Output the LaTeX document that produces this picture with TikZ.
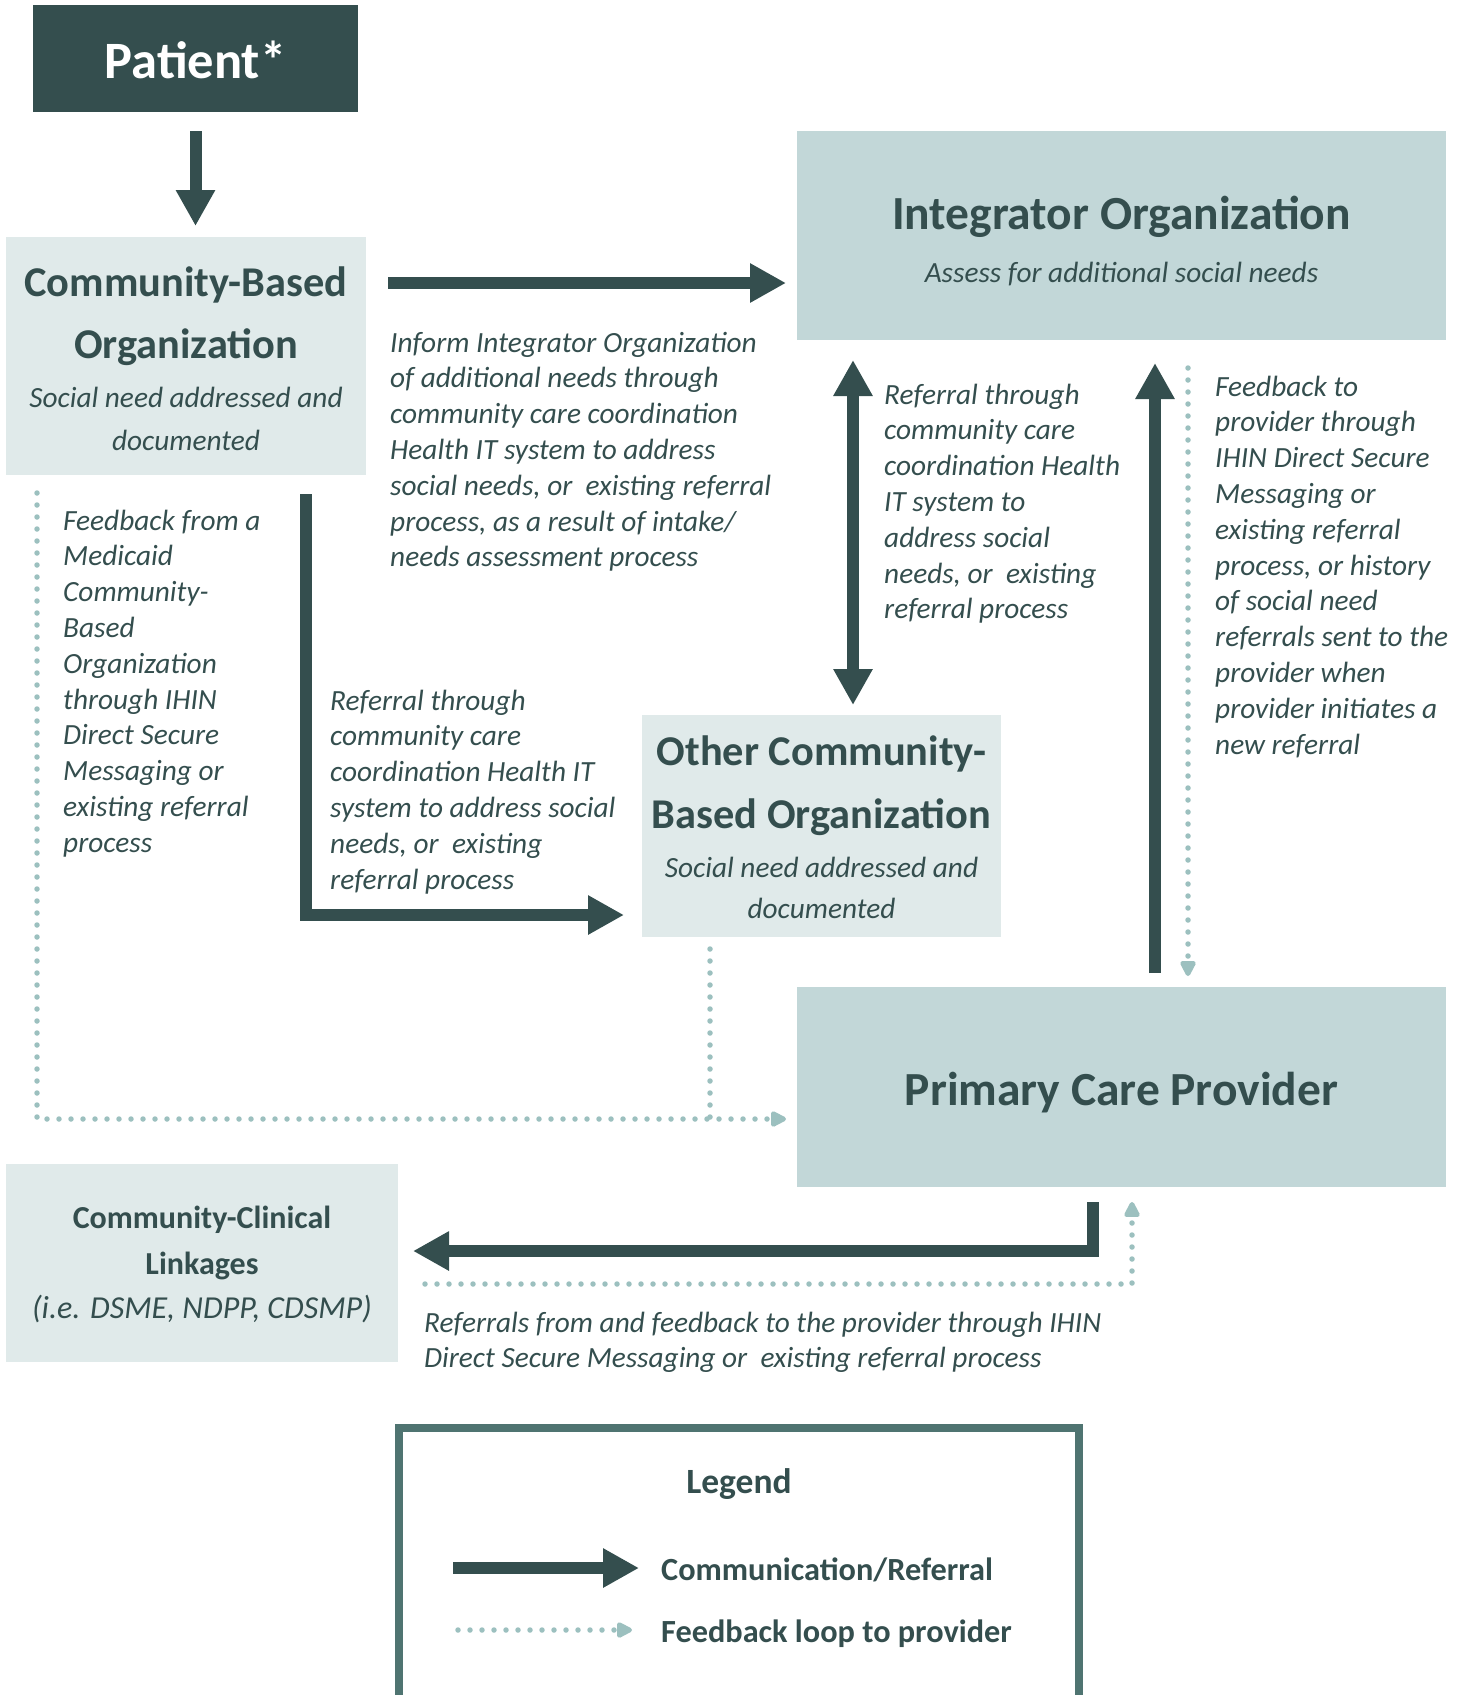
\documentclass[tikz,border=0pt]{standalone}
\usepackage{fontspec}
\setmainfont{Carlito}
\usetikzlibrary{arrows.meta}
\definecolor{dk}{HTML}{344E4E}
\definecolor{lt}{HTML}{E0EAEA}
\definecolor{md}{HTML}{C2D7D8}
\definecolor{dotc}{HTML}{9CC0BF}
\definecolor{lgc}{HTML}{4F7471}
\tikzset{
  box/.style={draw=none, inner sep=0pt, outer sep=0pt},
  ctxt/.style={text=dk, inner sep=0pt, anchor=base},
  ltxt/.style={text=dk, inner sep=0pt, anchor=base west},
  ital/.style={font=\fontsize{29.3}{35.8}\selectfont\itshape},
  bigarrow/.style={draw=dk, line width=12pt, -{Triangle[width=37pt,length=36pt]}},
  bigboth/.style={draw=dk, line width=12pt, {Triangle[width=37pt,length=36pt]}-{Triangle[width=37pt,length=36pt]}},
  dotline/.style={draw=dotc, line width=5.5pt, line cap=round, dash pattern=on 0pt off 12pt},
  dotarrow/.style={dotline, -{Triangle[width=17pt,length=18pt,round=false]}},
}
\begin{document}
\begin{tikzpicture}[x=1pt,y=-1pt]
\useasboundingbox (0,0) rectangle (1465,1695);
\clip (0,0) rectangle (1465,1695);

% boxes
\node[box, fill=dk, minimum width=325pt, minimum height=107pt] (patient) at (195.5,58.5) {};
\node[box, fill=lt, minimum width=360pt, minimum height=238pt] (cbo) at (186,356) {};
\node[box, fill=md, minimum width=649pt, minimum height=209pt] (io) at (1121.5,235.5) {};
\node[box, fill=lt, minimum width=359pt, minimum height=222pt] (ocbo) at (821.5,826) {};
\node[box, fill=md, minimum width=649pt, minimum height=200pt] (pcp) at (1121.5,1087) {};
\node[box, fill=lt, minimum width=392pt, minimum height=198pt] (ccl) at (202,1263) {};

% box texts
\node[ctxt, text=white, font=\fontsize{52.5}{60}\selectfont\bfseries] (patient-t) at (195.5,78) {Patient*};
\node[ctxt, font=\fontsize{42.4}{62}\selectfont\bfseries] (cbo-t) at (186,296) {\parbox[t]{360pt}{\centering Community-Based\\Organization}};
\node[ctxt, font=\fontsize{29.3}{43}\selectfont\itshape] (cbo-s) at (186,407) {\parbox[t]{360pt}{\centering Social need addressed and\\documented}};
\node[ctxt, font=\fontsize{47.5}{56}\selectfont\bfseries] (io-t) at (1121.5,229) {Integrator Organization};
\node[ctxt, font=\fontsize{29.3}{35}\selectfont\itshape] (io-s) at (1121.5,282) {Assess for additional social needs};
\node[ctxt, font=\fontsize{42.4}{63}\selectfont\bfseries] (ocbo-t) at (821.5,765) {\parbox[t]{359pt}{\centering Other Community-\\Based Organization}};
\node[ctxt, font=\fontsize{29.3}{41.5}\selectfont\itshape] (ocbo-s) at (821.5,877) {\parbox[t]{359pt}{\centering Social need addressed and\\documented}};
\node[ctxt, font=\fontsize{47.5}{56}\selectfont\bfseries] (pcp-t) at (1121.5,1105) {Primary Care Provider};
\node[ctxt, font=\fontsize{32}{46}\selectfont\bfseries] (ccl-t) at (202,1228) {\parbox[t]{392pt}{\centering Community-Clinical\\Linkages}};
\node[ctxt, font=\fontsize{32}{40}\selectfont\itshape] (ccl-s) at (202,1318) {(i.e. DSME, NDPP, CDSMP)};

% connector labels
\node[ltxt, ital] (inform) at (390,352) {\parbox[t]{420pt}{\raggedright
Inform Integrator Organization\\
of additional needs through\\
community care coordination\\
Health IT system to address\\
social needs, or~ existing referral\\
process, as a result of intake/\\
needs assessment process}};
\node[ltxt, ital] (ref1) at (884,404) {\parbox[t]{300pt}{\raggedright
Referral through\\
community care\\
coordination Health\\
IT system to\\
address social\\
needs, or~ existing\\
referral process}};
\node[ltxt, ital] (fb1) at (1215,396) {\parbox[t]{300pt}{\raggedright
Feedback to\\
provider through\\
IHIN Direct Secure\\
Messaging or\\
existing referral\\
process, or history\\
of social need\\
referrals sent to the\\
provider when\\
provider initiates a\\
new referral}};
\node[ltxt, ital] (fb2) at (63,530) {\parbox[t]{300pt}{\raggedright
Feedback from a\\
Medicaid\\
Community-\\
Based\\
Organization\\
through IHIN\\
Direct Secure\\
Messaging or\\
existing referral\\
process}};
\node[ltxt, ital] (ref2) at (330,710) {\parbox[t]{320pt}{\raggedright
Referral through\\
community care\\
coordination Health IT\\
system to address social\\
needs, or~ existing\\
referral process}};
\node[ltxt, font=\fontsize{29.3}{35}\selectfont\itshape] (ref3) at (424,1332) {\parbox[t]{760pt}{\raggedright
Referrals from and feedback to the provider through IHIN\\
Direct Secure Messaging or~ existing referral process}};

% connectors
\draw[bigarrow, shorten <=19pt, shorten >=11pt] (patient.south) -- (patient.south |- cbo.north);
\draw[bigarrow, shorten <=22pt, shorten >=11pt] (cbo.east |- 0,283) -- (io.west |- 0,283);
\draw[bigboth, shorten <=20pt, shorten >=10pt] (io.south -| 853,0) -- (ocbo.north -| 853,0);
\draw[bigarrow, shorten <=14pt, shorten >=23pt] (pcp.north -| 1155,0) -- (io.south -| 1155,0);
\draw[dotarrow, shorten <=28pt, shorten >=11pt] (io.south -| 1188,0) -- (pcp.north -| 1188,0);
\draw[bigarrow, shorten <=19pt, shorten >=18pt] (cbo.south -| 306,0) |- (ocbo.west |- 0,915);
\draw[dotarrow, shorten <=18pt, shorten >=11pt] (cbo.south -| 37,0) |- (pcp.west |- 0,1119);
\coordinate (join) at (710,1119);
\draw[dotline, shorten <=12pt] (ocbo.south -| 710,0) -- (join);
\draw[bigarrow, shorten <=15pt, shorten >=15pt] (pcp.south -| 1093,0) |- (ccl.east |- 0,1251);
\draw[dotarrow, shorten <=27pt, shorten >=15pt] (ccl.east |- 0,1284) -| (pcp.south -| 1132,0);

% legend
\draw[lgc, line width=8pt] (399,1760) -- (399,1428) -- (1079,1428) -- (1079,1760);
\node[ctxt, font=\fontsize{35.5}{40}\selectfont\bfseries] (leg-t) at (739,1493) {Legend};
\coordinate (la1) at (453,1568);
\coordinate (la2) at (639,1568);
\coordinate (lb1) at (458,1630);
\coordinate (lb2) at (632,1630);
\draw[bigarrow] (la1) -- (la2);
\draw[dotarrow] (lb1) -- (lb2);
\node[ltxt, font=\fontsize{32.3}{40}\selectfont\bfseries] (leg-a) at (661,1580) {Communication/Referral};
\node[ltxt, font=\fontsize{32.3}{40}\selectfont\bfseries] (leg-b) at (661,1642) {Feedback loop to provider};
\end{tikzpicture}
\end{document}
